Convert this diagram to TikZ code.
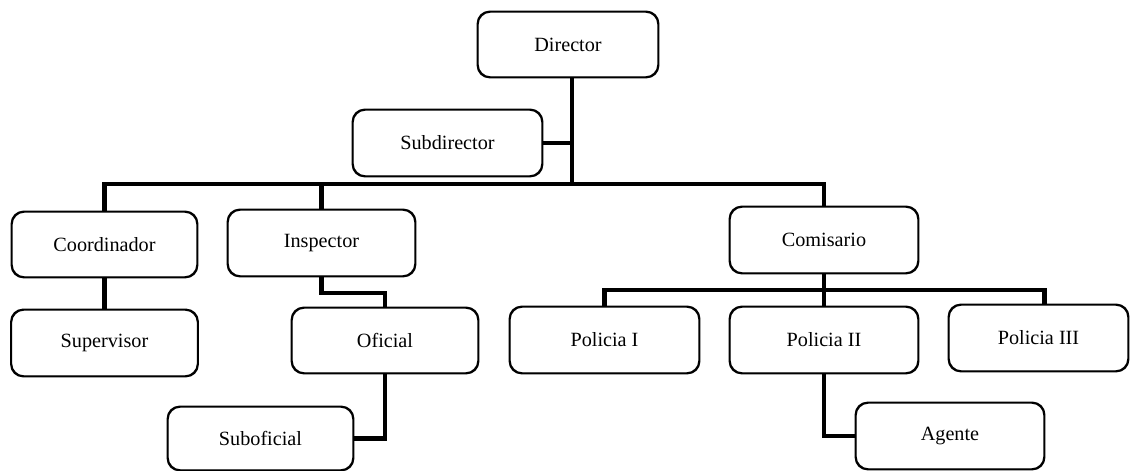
\documentclass[tikz,border=0pt]{standalone}
\usepackage{fontspec}
\setmainfont{Liberation Serif}
\usetikzlibrary{positioning}

\begin{document}
\begin{tikzpicture}[line join=miter]
		
		% Styles
		\tikzstyle{block} = [draw, line width=0.8pt, rounded corners=7pt, align=center, minimum width=3.74cm, minimum height=1.32cm, inner sep=0pt, font=\fontsize{11.5}{13}\selectfont];
		\tikzstyle{link} = [line width=2.5pt];
		
		\useasboundingbox (0,0) rectangle (22.62,-9.42);
		
		% Nodes
		\node[block, minimum width=3.6cm, minimum height=1.3cm] (dir) at (11.36,-0.89) {Director};
		\node[block, minimum width=3.78cm] (sub) at (8.95,-2.86) {Subdirector};
		
		\node[block, minimum width=3.7cm, minimum height=1.3cm] (coord) at (2.09,-4.89) {Coordinador};
		\node[block] (insp) at (6.43,-4.86) {Inspector};
		\node[block, minimum width=3.76cm] (com) at (16.48,-4.8) {Comisario};
		
		\node[block, minimum width=3.72cm] (superv) at (2.09,-6.86) {Supervisor};
		\node[block, minimum width=3.72cm, minimum height=1.3cm] (ofi) at (7.7,-6.81) {Oficial};
		\node[block, minimum width=3.7cm, minimum height=1.26cm] (subofi) at (5.21,-8.77) {Suboficial};
		
		\node[block, minimum width=3.78cm] (pol1) at (12.09,-6.8) {Policia I};
		\node[block, minimum width=3.76cm] (pol2) at (16.48,-6.8) {Policia II};
		\node[block, minimum width=3.58cm] (pol3) at (20.77,-6.76) {Policia III};
		\node[block, minimum width=3.76cm] (agente) at (19.0,-8.72) {Agente};
		
		% Junctions
		\coordinate (hub) at ([xshift=0.08cm]dir.south |- 0,-3.68);
		\coordinate (phub) at (com.south |- 0,-5.8);
		
		% Connectors
		\draw[link] ([xshift=0.08cm]dir.south) -- (hub);
		\draw[link] (sub.east) -- (sub.east -| hub);
		\draw[link] (coord.north) |- (hub) -| (com.north);
		\draw[link] (insp.north) -- (insp.north |- hub);
		\draw[link] (coord.south) -- (coord.south |- superv.north);
		\draw[link] (insp.south) -- ++(0,-0.32) -| (ofi.north);
		\draw[link] (ofi.south) |- (subofi.east);
		\draw[link] (com.south) -- (pol2.north);
		\draw[link] (pol1.north) |- (phub) -| ([xshift=0.12cm]pol3.north);
		\draw[link] (pol2.south) |- (agente.west);
		
		% Redraw boxes over the line ends
		\foreach \n in {dir,sub,coord,insp,com,superv,ofi,subofi,pol1,pol2,pol3,agente}
		\draw[line width=0.8pt, rounded corners=7pt] (\n.south west) rectangle (\n.north east);
		
	\end{tikzpicture}
\end{document}
